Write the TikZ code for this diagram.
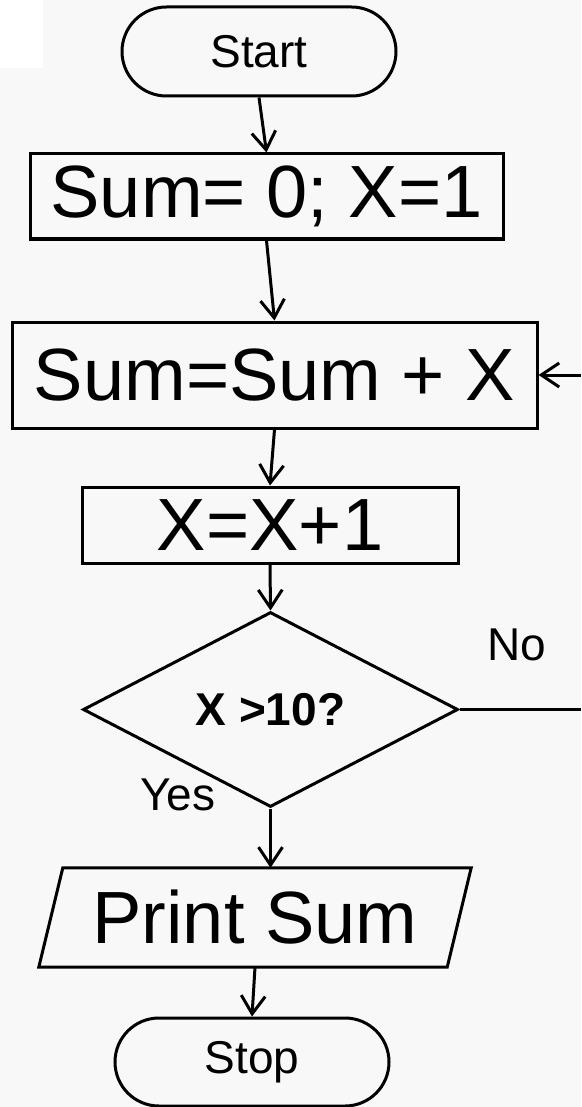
\documentclass[tikz,border=0pt]{standalone}
\usepackage{fontspec}
\setmainfont{Liberation Sans}
\usetikzlibrary{shapes.geometric,shapes.misc,arrows.meta,calc}
\definecolor{bgc}{RGB}{248,248,248}
\begin{document}
\begin{tikzpicture}[x=1pt,y=-1pt,
  base/.style={draw=black,line width=3pt,inner sep=0pt,text=black},
  term/.style={base,rounded rectangle,minimum width=274pt,minimum height=89pt,font=\fontsize{46}{50}\selectfont},
  procbox/.style={base,rectangle,font=\fontsize{74}{80}\selectfont},
  decis/.style={base,diamond,minimum width=375pt,minimum height=195pt,font=\bfseries\fontsize{46}{50}\selectfont},
  lbl/.style={inner sep=0pt,font=\fontsize{46}{50}\selectfont},
  flow/.style={line width=3pt,-{Straight Barb[length=18pt,width=24pt]}},
  plain/.style={line width=3pt}]
\useasboundingbox (0,0) rectangle (581,1107);
\fill[bgc] (0,0) rectangle (581,1107);
\fill[white] (0,0) rectangle (43,68);

\node[term] (start) at (259,51.5) {Start};
\node[procbox,minimum width=473pt,minimum height=85pt] (b1) at (266.5,196.5) {Sum= 0; X=1};
\node[procbox,minimum width=525pt,minimum height=106pt] (b2) at (274.5,375) {Sum=Sum + X};
\node[procbox,minimum width=376pt,minimum height=76pt] (b3) at (270,525) {X=X+1};
\node[decis] (dec) at (270.5,709.5) {X >10?};
\node[inner sep=0pt,minimum width=432pt,minimum height=99pt,font=\fontsize{74}{80}\selectfont] (pr) at (255,917.5) {Print Sum};
\draw[plain,line join=miter] ($(pr.north west)+(24,0)$) -- (pr.north east) -- ($(pr.south east)+(-24,0)$) -- (pr.south west) -- cycle;
\node[term,minimum height=88pt] (stop) at (252,1062) {Stop};

\node[lbl] (no) at (517,645) {No};
\node[lbl] (yes) at (178,795) {Yes};

\coordinate (r1) at (581,709.5);
\coordinate (r2) at (581,375);

\draw[flow] (start.south) -- (b1.north);
\draw[flow] (b1.south) -- (b2.north);
\draw[flow] (b2.south) -- (b3.north);
\draw[flow] (b3.south) -- (dec.north);
\draw[flow] (dec.south) -- (dec.south |- pr.north);
\draw[flow] (pr.south) -- (stop.north);
\draw[plain] (dec.east) -- (r1);
\draw[flow] (r2) -- (b2.east);
\end{tikzpicture}
\end{document}
